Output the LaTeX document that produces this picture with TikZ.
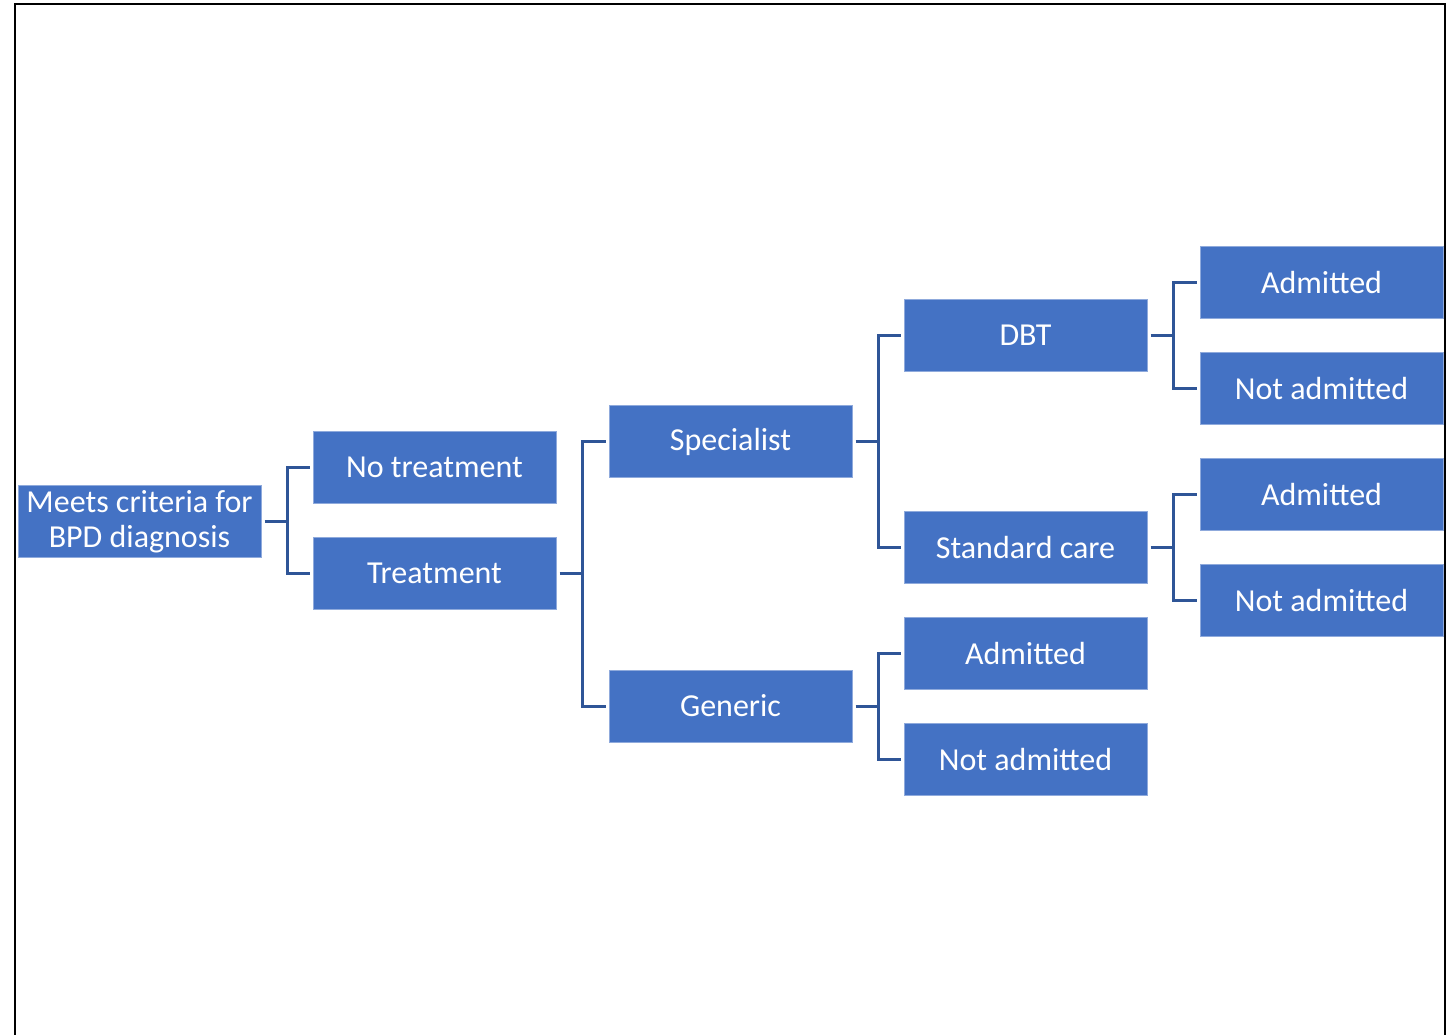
\documentclass[tikz,border=0pt]{standalone}
\usepackage{fontspec}
\setmainfont{Carlito}
\definecolor{boxfill}{RGB}{68,114,196}
\definecolor{boxedge}{RGB}{143,170,220}
\definecolor{conn}{RGB}{47,85,151}
\begin{document}
\begin{tikzpicture}[x=1pt,y=-1pt,
  box/.style={rectangle,fill=boxfill,draw=boxedge,line width=1pt,minimum width=243pt,minimum height=72pt,inner sep=0pt,text=white,align=center,font=\fontsize{32}{35}\selectfont},
  link/.style={draw=conn,line width=3pt}]
\useasboundingbox (0,0) rectangle (1455,1034);
\draw[line width=2pt] (15,1040) -- (15,4) -- (1445,4) -- (1445,1040);
\node[box] (root) at (139.5,521.5) {Meets criteria for\\BPD diagnosis};
\node[box] (nt) at (434.5,467.5) {No treatment};
\node[box] (tr) at (434.5,573.5) {Treatment};
\node[box] (sp) at (730.5,441.5) {Specialist};
\node[box] (ge) at (730.5,706) {Generic};
\node[box] (dbt) at (1025.5,335.5) {DBT};
\node[box] (sc) at (1025.5,547.5) {Standard care};
\node[box] (ga) at (1025.5,653.5) {Admitted};
\node[box] (gn) at (1025.5,759.5) {Not admitted};
\node[box] (da) at (1321.5,282.5) {Admitted};
\node[box] (dn) at (1321.5,388.5) {Not admitted};
\node[box] (sa) at (1321.5,494.5) {Admitted};
\node[box] (sn) at (1321.5,600.5) {Not admitted};
\foreach \p/\a/\b in {root/nt/tr, tr/sp/ge, sp/dbt/sc, ge/ga/gn, dbt/da/dn, sc/sa/sn}{
  \draw[link] ([xshift=3pt]\p.east) -- ([xshift=26pt]\p.east);
  \draw[link] ([xshift=26pt]\p.east) |- ([xshift=-3pt]\a.west);
  \draw[link] ([xshift=26pt]\p.east) |- ([xshift=-3pt]\b.west);
}
\end{tikzpicture}
\end{document}
